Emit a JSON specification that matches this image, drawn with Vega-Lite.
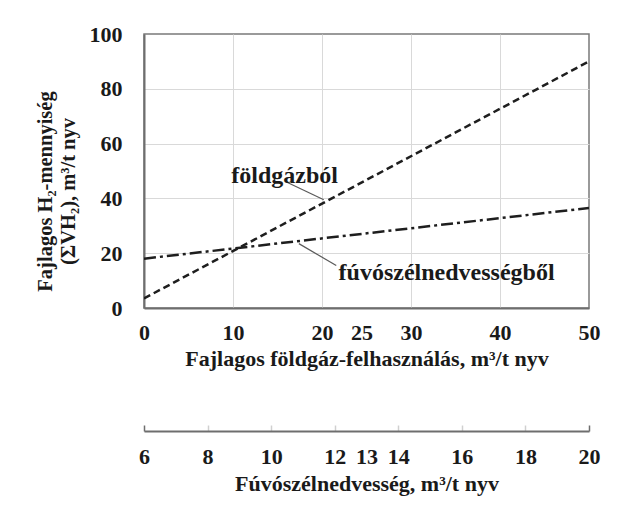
{
  "$schema": "https://vega.github.io/schema/vega-lite/v6.json",
  "width": 445,
  "height": 274,
  "padding": {"left": 35, "top": 23, "right": 10, "bottom": 5},
  "background": "white",
  "config": {
    "font": "Liberation Serif",
    "view": {"stroke": "#7a7a7a", "strokeWidth": 1.5},
    "axis": {
      "labelFont": "Liberation Serif",
      "labelFontWeight": "bold",
      "labelFontSize": 22,
      "labelColor": "#1a1a1a",
      "titleFont": "Liberation Serif",
      "titleFontWeight": "bold",
      "titleFontSize": 22,
      "titleColor": "#1a1a1a"
    }
  },
  "datasets": {
    "lines": [
      {"series": "földgázból", "gas": 0, "h2": 3.5},
      {"series": "földgázból", "gas": 50, "h2": 90},
      {"series": "fúvószélnedvességből", "gas": 0, "h2": 18},
      {"series": "fúvószélnedvességből", "gas": 50, "h2": 36.5}
    ],
    "leaders": [
      {"x": 16.0, "y": 46.0, "x2": 20.2, "y2": 39.5},
      {"x": 17.4, "y": 23.5, "x2": 21.6, "y2": 15.5}
    ],
    "labels": [
      {"gas": 15.8, "h2": 48.3, "text": "földgázból"},
      {"gas": 34.0, "h2": 12.8, "text": "fúvószélnedvességből"}
    ],
    "humidity": [
      {"hum": 6},
      {"hum": 20}
    ]
  },
  "layer": [
    {
      "layer": [
        {
          "data": {"name": "lines"},
          "transform": [{"filter": "datum.series == 'földgázból'"}],
          "mark": {"type": "line", "color": "#1e1e1e", "strokeWidth": 2.5, "strokeDash": [7, 4], "clip": true},
          "encoding": {
            "x": {
              "field": "gas",
              "type": "quantitative",
              "scale": {"domain": [0, 50], "nice": false},
              "axis": {
                "values": [0, 10, 20, 25, 30, 40, 50],
                "title": "Fajlagos földgáz-felhasználás,  m³/t nyv",
                "grid": true,
                "gridColor": {"condition": {"test": "datum.value == 25 || datum.value == 0 || datum.value == 50", "value": "transparent"}, "value": "#d9d9d9"},
                "gridWidth": 1,
                "domainColor": "#6e6e6e",
                "domainWidth": 2,
                "ticks": false,
                "labelPadding": 14,
                "labelOffset": {"condition": {"test": "datum.value == 25", "value": -5}, "value": 0},
                "labelFlush": false,
                "titlePadding": 5
              }
            },
            "y": {
              "field": "h2",
              "type": "quantitative",
              "scale": {"domain": [0, 100], "nice": false},
              "axis": {
                "values": [0, 20, 40, 60, 80, 100],
                "title": ["Fajlagos H₂-mennyiség", "(ΣVH₂), m³/t nyv"],
                "titleFontSize": 20.5,
                "titleLineHeight": 23,
                "titleY": 157,
                "grid": true,
                "gridColor": {"condition": {"test": "datum.value == 0 || datum.value == 100", "value": "transparent"}, "value": "#d9d9d9"},
                "domainColor": "#6e6e6e",
                "domainWidth": 2,
                "ticks": false,
                "labelPadding": 22,
                "titlePadding": 11
              }
            }
          }
        },
        {
          "data": {"name": "lines"},
          "transform": [{"filter": "datum.series == 'fúvószélnedvességből'"}],
          "mark": {"type": "line", "color": "#1e1e1e", "strokeWidth": 2.5, "strokeDash": [12, 4, 3, 4], "clip": true},
          "encoding": {
            "x": {"field": "gas", "type": "quantitative"},
            "y": {"field": "h2", "type": "quantitative"}
          }
        },
        {
          "data": {"name": "leaders"},
          "mark": {"type": "rule", "color": "#5a5a5a", "strokeWidth": 1.2},
          "encoding": {
            "x": {"field": "x", "type": "quantitative"},
            "y": {"field": "y", "type": "quantitative"},
            "x2": {"field": "x2"},
            "y2": {"field": "y2"}
          }
        },
        {
          "data": {"name": "labels"},
          "mark": {"type": "text", "font": "Liberation Serif", "fontWeight": "bold", "fontSize": 24, "color": "#1a1a1a", "align": "center", "baseline": "middle"},
          "encoding": {
            "x": {"field": "gas", "type": "quantitative"},
            "y": {"field": "h2", "type": "quantitative"},
            "text": {"field": "text"}
          }
        }
      ]
    },
    {
      "data": {"name": "humidity"},
      "mark": {"type": "point", "opacity": 0},
      "encoding": {
        "x": {
          "field": "hum",
          "type": "quantitative",
          "scale": {"domain": [6, 20], "nice": false, "zero": false},
          "axis": {
            "orient": "bottom",
            "offset": 123,
            "values": [6, 8, 10, 12, 13, 14, 16, 18, 20],
            "title": "Fúvószélnedvesség, m³/t nyv",
            "grid": false,
            "domainColor": "#6e6e6e",
            "domainWidth": 2,
            "ticks": true,
            "tickSize": -6,
            "tickColor": {"condition": {"test": "datum.value == 6 || datum.value == 20", "value": "#6e6e6e"}, "value": "#d0d0d0"},
            "tickOpacity": {"condition": {"test": "datum.value == 13", "value": 0}, "value": 1},
            "tickWidth": 1.5,
            "labelPadding": 21,
            "labelFlush": false,
            "titlePadding": 6
          }
        },
        "y": {"datum": 50, "type": "quantitative"}
      }
    }
  ],
  "resolve": {"scale": {"x": "independent"}, "axis": {"x": "independent"}}
}
